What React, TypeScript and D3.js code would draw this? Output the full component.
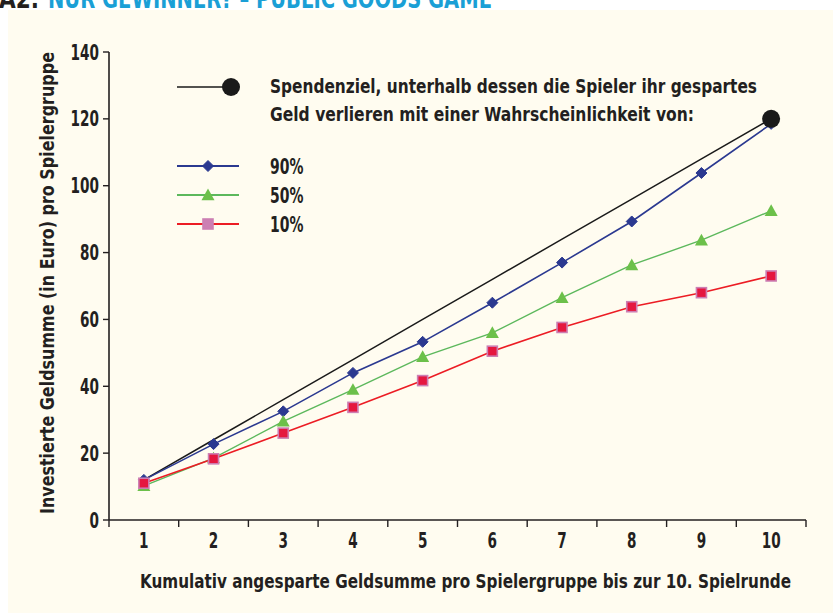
import React from "react";
import * as d3 from "d3";

const rounds = [1, 2, 3, 4, 5, 6, 7, 8, 9, 10];
const target = [12, 24, 36, 48, 60, 72, 84, 96, 108, 120];
const p90 = [12, 22.7, 32.5, 44, 53.3, 65, 77, 89.3, 103.8, 118.5];
const p50 = [10.2, 18.5, 29.5, 39, 48.8, 56, 66.5, 76.3, 83.7, 92.5];
const p10 = [11, 18.3, 26, 33.7, 41.7, 50.5, 57.6, 63.8, 68, 73];
const yTicks = [0, 20, 40, 60, 80, 100, 120, 140];
const legendLabels = ["90%", "50%", "10%"];
const targetLabel1 = "Spendenziel, unterhalb dessen die Spieler ihr gespartes";
const targetLabel2 = "Geld verlieren mit einer Wahrscheinlichkeit von:";
const xTitle = "Kumulativ angesparte Geldsumme pro Spielergruppe bis zur 10. Spielrunde";
const yTitle = "Investierte Geldsumme (in Euro) pro Spielergruppe";

const FONT = "'Liberation Sans Narrow', 'DejaVu Sans Condensed', 'Arial Narrow', sans-serif";
const INK = "#231f20";
const BLUE = "#2b3990";
const GREEN = "#5cb85c";
const GREEN_M = "#6cc04a";
const RED = "#ec1c24";
const RED_M = "#e5173f";
const PINK = "#cc7fb3";

function CText({ x, y, size, anchor, sx, children }: { x: number; y: number; size: number; anchor?: string; sx: number; children: React.ReactNode }) {
  return (
    <text transform={`translate(${x},${y}) scale(${sx},1)`} textAnchor={anchor || "start"} fontSize={size} fontWeight="bold" fill={INK}>
      {children}
    </text>
  );
}

function Marker({ kind, x, y, legend }: { kind: string; x: number; y: number; legend?: boolean }) {
  if (kind === "diamond") {
    const s = 5.5;
    return <path d={`M${x},${y - s}L${x + s},${y}L${x},${y + s}L${x - s},${y}Z`} fill={BLUE} stroke={BLUE} strokeWidth={1} />;
  }
  if (kind === "triangle") {
    const s = 6.5;
    return <path d={`M${x},${y - s}L${x + s},${y + s * 0.8}L${x - s},${y + s * 0.8}Z`} fill={GREEN_M} />;
  }
  const s = 5;
  return <rect x={x - s} y={y - s} width={2 * s} height={2 * s} fill={legend ? PINK : RED_M} stroke={PINK} strokeWidth={1.6} />;
}

export default function App() {
  const x = d3.scaleBand<number>().domain(rounds).range([109, 806]).paddingInner(0).paddingOuter(0);
  const y = d3.scaleLinear().domain([0, 140]).range([520, 52]);
  const cx = (r: number) => (x(r) as number) + x.bandwidth() / 2;
  const line = d3.line<number>().x((_, i) => cx(rounds[i])).y((v) => y(v));

  const series = [
    { vals: p90, color: BLUE, kind: "diamond", w: 1.6 },
    { vals: p50, color: GREEN, kind: "triangle", w: 1.4 },
    { vals: p10, color: RED, kind: "square", w: 1.6 },
  ];
  const boundaries = [...rounds.map((r) => x(r) as number), 806];
  const legendY = [166, 195, 224];

  return (
    <svg width={833} height={613} style={{ position: "absolute", left: 0, top: 0 }} fontFamily={FONT}>
      <rect x={0} y={0} width={833} height={613} fill="#ffffff" />
      <rect x={8} y={10} width={825} height={603} fill="#fffcf0" />
      <text x={-1} y={8} fontSize={27} fontWeight="bold" fill={INK} textLength={40} lengthAdjust="spacingAndGlyphs">A2.</text>
      <text x={48} y={8} fontSize={27} fontWeight="bold" fill="#1a9fd6" textLength={444} lengthAdjust="spacingAndGlyphs">NUR GEWINNER? – PUBLIC GOODS GAME</text>

      {/* axes */}
      <line x1={109} y1={52} x2={109} y2={520} stroke={INK} strokeWidth={1.6} />
      <line x1={109} y1={520} x2={806} y2={520} stroke={INK} strokeWidth={1.6} />
      {yTicks.map((t) => (
        <g key={t}>
          <line x1={103} x2={109} y1={y(t)} y2={y(t)} stroke={INK} strokeWidth={1.4} />
          <CText x={99} y={y(t) + 7.5} size={21} anchor="end" sx={0.72}>{t}</CText>
        </g>
      ))}
      {boundaries.map((b, i) => (
        <line key={i} x1={b} x2={b} y1={520} y2={527} stroke={INK} strokeWidth={1.4} />
      ))}
      {rounds.map((r) => (
        <CText key={r} x={cx(r)} y={548} size={21} anchor="middle" sx={0.72}>{r}</CText>
      ))}
      <text x={140} y={588} fontSize={19} fontWeight="bold" fill={INK} textLength={651} lengthAdjust="spacingAndGlyphs">{xTitle}</text>
      <text transform={`translate(54,${283}) rotate(-90)`} textAnchor="middle" fontSize={19} fontWeight="bold" fill={INK} textLength={462} lengthAdjust="spacingAndGlyphs">{yTitle}</text>

      {/* target line */}
      <path d={line(target) as string} fill="none" stroke="#1a1a1a" strokeWidth={1.5} />
      {series.map((s, i) => (
        <g key={i}>
          <path d={line(s.vals) as string} fill="none" stroke={s.color} strokeWidth={s.w} />
          {s.vals.map((v, j) => (
            <Marker key={j} kind={s.kind} x={cx(rounds[j])} y={y(v)} />
          ))}
        </g>
      ))}
      <circle cx={cx(10)} cy={y(target[9])} r={9} fill="#1a1a1a" />

      {/* legend */}
      <line x1={177} x2={228} y1={87} y2={87} stroke="#1a1a1a" strokeWidth={1.5} />
      <circle cx={231} cy={87} r={9} fill="#1a1a1a" />
      <text x={270} y={93} fontSize={20} fontWeight="bold" fill={INK} textLength={487} lengthAdjust="spacingAndGlyphs">{targetLabel1}</text>
      <text x={270} y={121} fontSize={20} fontWeight="bold" fill={INK} textLength={424} lengthAdjust="spacingAndGlyphs">{targetLabel2}</text>
      {series.map((s, i) => (
        <g key={i}>
          <line x1={177} x2={239} y1={legendY[i]} y2={legendY[i]} stroke={s.color} strokeWidth={s.w + 0.4} />
          <Marker kind={s.kind} x={208} y={legendY[i]} legend />
          <CText x={270} y={legendY[i] + 7.5} size={21} sx={0.74}>{legendLabels[i]}</CText>
        </g>
      ))}
    </svg>
  );
}
